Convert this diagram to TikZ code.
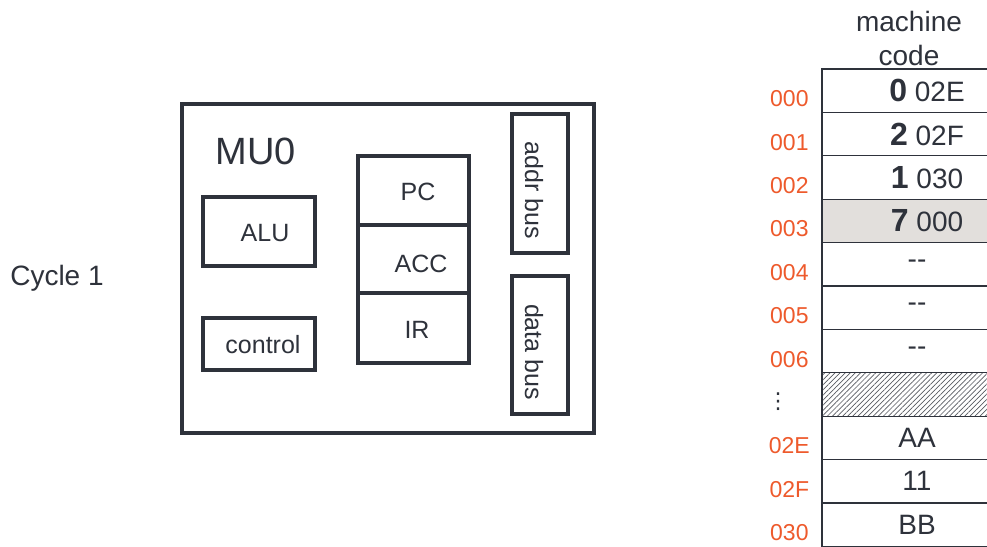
\documentclass[tikz,border=0pt]{standalone}
\usepackage{fontspec}
\setmainfont{Liberation Sans}
\newfontfamily\symfont{DejaVu Sans}
\usetikzlibrary{patterns.meta}

\definecolor{ink}{HTML}{2E323B}
\definecolor{adrcol}{HTML}{EE5A2C}
\definecolor{hlcol}{HTML}{E2DFDC}

% instruction word: bold opcode, then operand
\newcommand{\instr}[2]{\hspace*{20pt}{\fontsize{32}{34}\selectfont\bfseries #1} #2}

\tikzset{
  unit/.style={draw=ink, line width=3.5pt, inner sep=0pt},
  lbl/.style={text=ink, font=\fontsize{25}{30}\selectfont},
  cell/.style={draw=ink, line width=1.3pt, minimum width=190pt, minimum height=43.4pt,
               inner sep=0pt, text=ink, font=\fontsize{28}{32}\selectfont},
  adr/.style={text=adrcol, font=\fontsize{23}{27}\selectfont},
  plain/.style={},
  shade/.style={fill=hlcol},
  hatch/.style={pattern={Lines[angle=45,distance=3.6pt,line width=0.7pt]}, pattern color=ink!80},
}

\begin{document}
\begin{tikzpicture}[x=1pt, y=-1pt]
\useasboundingbox (0,0) rectangle (987,546);
\fill[white] (0,0) rectangle (987,546);

\node[text=ink, font=\fontsize{28}{34}\selectfont, anchor=base] (cycle) at (57,285) {Cycle 1};

% MU0 block
\node[unit, minimum width=412pt, minimum height=329pt] (mu0) at (388,268.5) {};
\node[text=ink, font=\fontsize{38}{44}\selectfont] (mu0txt) at (255.5,151) {MU0};

\node[unit, minimum width=112pt, minimum height=69pt] (alu) at (259,231.5) {};
\node[lbl] at (265,233) {ALU};
\node[unit, minimum width=112pt, minimum height=52pt] (ctrl) at (259,344) {};
\node[lbl] at (263,345) {control};

% registers
\node[unit, minimum width=111pt, minimum height=69pt] (pc) at (413.5,190.5) {};
\node[unit, minimum width=111pt, minimum height=68pt] (acc) at (413.5,259) {};
\node[unit, minimum width=111pt, minimum height=70pt] (ir) at (413.5,328) {};
\node[lbl] at (418,192) {PC};
\node[lbl] at (421,264) {ACC};
\node[lbl] at (417,330) {IR};

% buses
\node[unit, minimum width=56pt, minimum height=139pt] (abus) at (540,183.5) {};
\node[lbl, rotate=-90] at (534,190) {addr bus};
\node[unit, minimum width=56pt, minimum height=138pt] (dbus) at (540,345) {};
\node[lbl, rotate=-90] at (534,352) {data bus};

% memory
\node[text=ink, font=\fontsize{28}{34}\selectfont, align=center] (mc) at (909,38) {machine\\code};

\begin{scope}
\clip (0,0) rectangle (987,546);
\foreach \adr/\txt/\sty [count=\i] in {
    000/{\instr{0}{02E}}/plain,
    001/{\instr{2}{02F}}/plain,
    002/{\instr{1}{030}}/plain,
    003/{\instr{7}{000}}/shade,
    004/{-{}-}/plain,
    005/{-{}-}/plain,
    006/{-{}-}/plain,
    {}/{}/hatch,
    02E/{AA}/plain,
    02F/{11}/plain,
    030/{BB}/plain} {
  \node[cell, \sty] (r\i) at (917, 69+43.4*\i-21.7) {\txt};
  \node[adr] (a\i) at ([xshift=-32pt, yshift=-8pt]r\i.west) {\adr};
}
\end{scope}
\node[text=ink, font=\symfont\fontsize{22}{24}\selectfont] (gap) at (778,402) {⋮};

\end{tikzpicture}
\end{document}
